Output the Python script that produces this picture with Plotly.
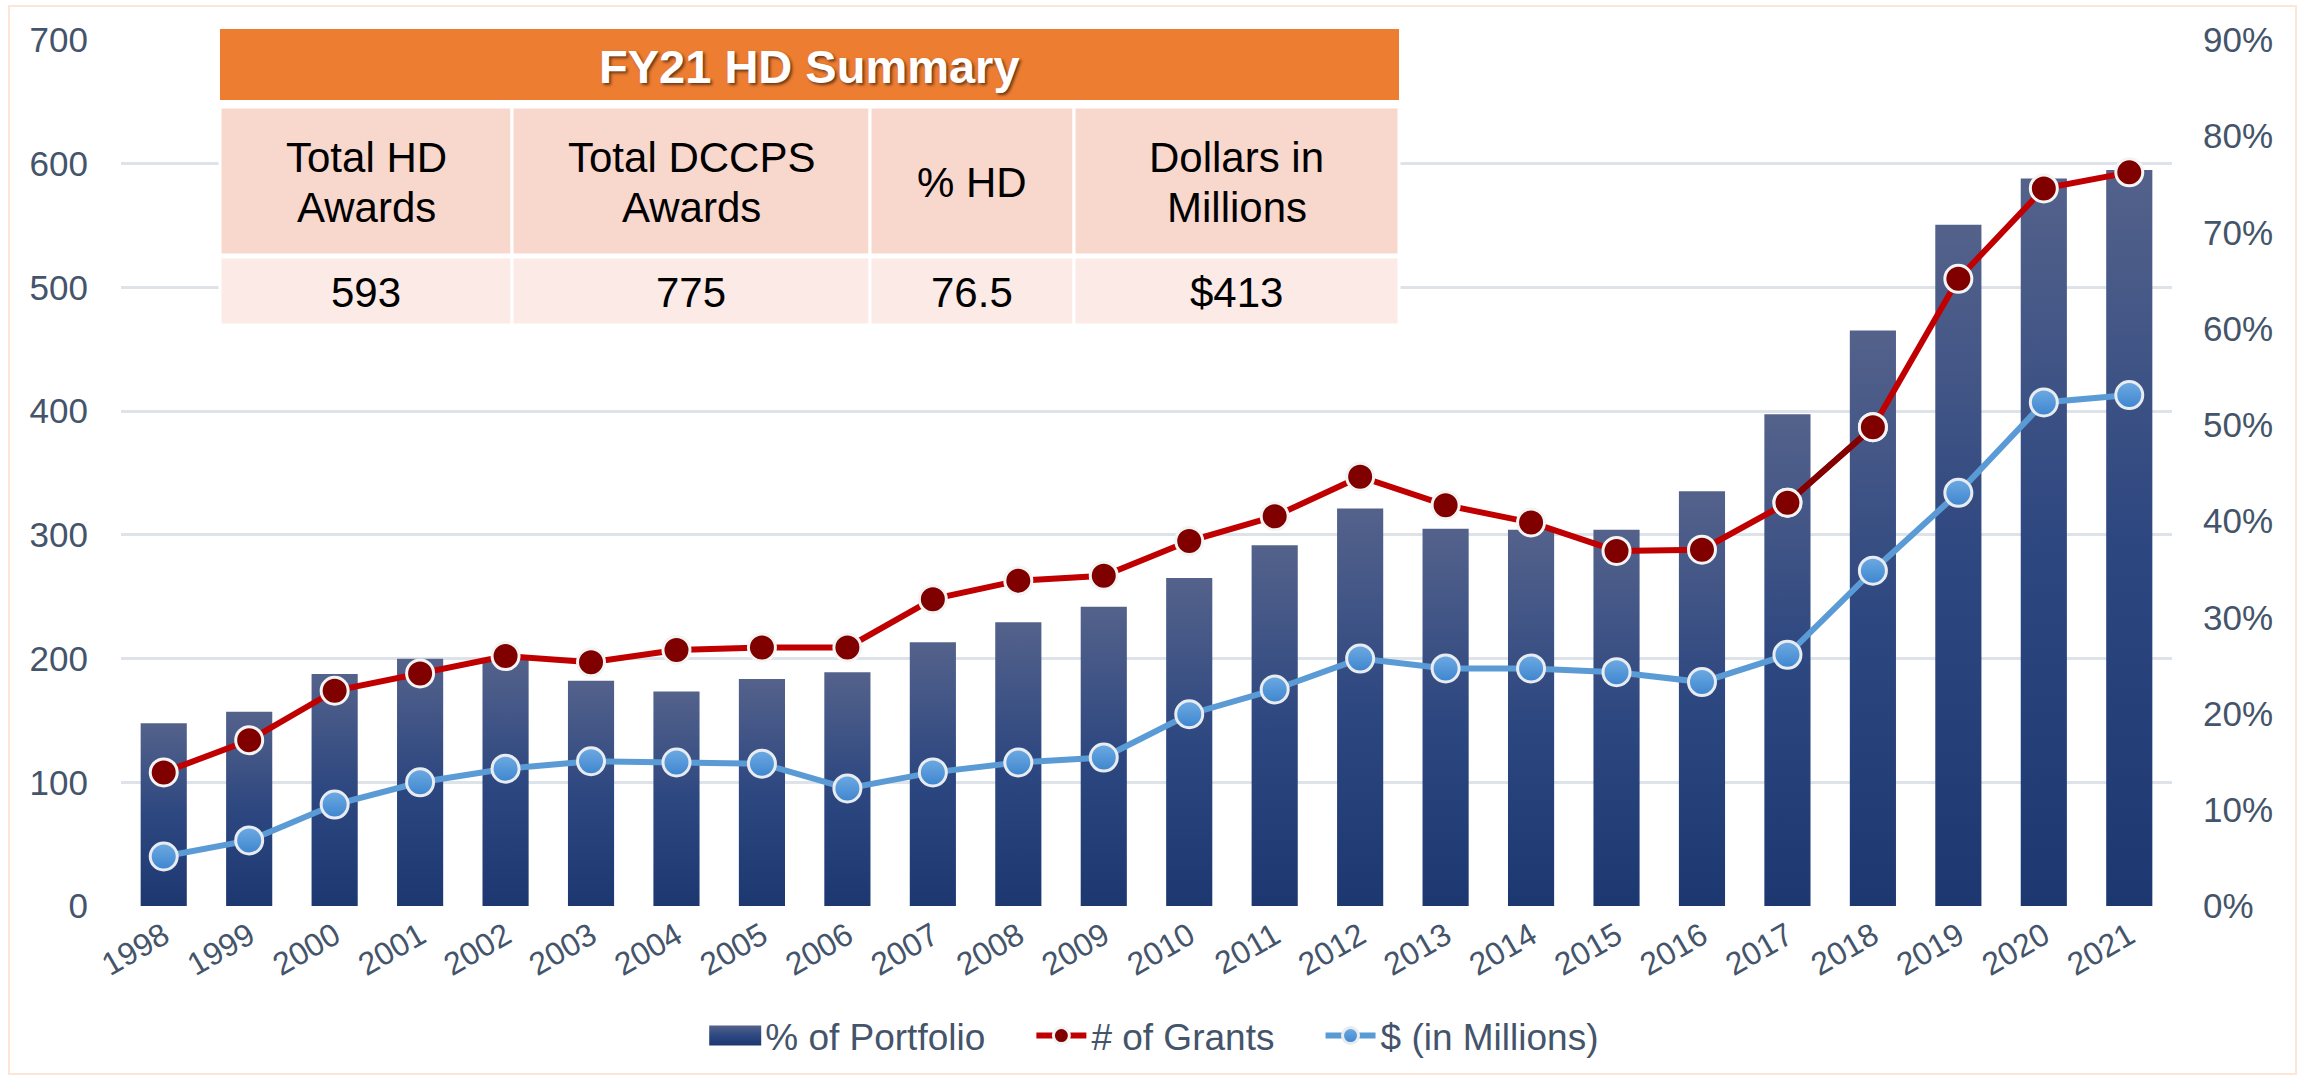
"""HD portfolio: share of portfolio, number of grants and dollars, FY1998-FY2021."""

import plotly.graph_objects as go

years = [str(y) for y in range(1998, 2022)]
portfolio_pct = [19.0, 20.2, 24.1, 25.7, 25.7, 23.4, 22.3, 23.6, 24.3, 27.4, 29.5, 31.1,
                 34.1, 37.5, 41.3, 39.2, 39.1, 39.1, 43.1, 51.1, 59.8, 70.8, 75.6, 76.5]
grants = [108, 134, 174, 188, 202, 197, 207, 209, 209, 248, 263, 267,
          295, 315, 347, 324, 310, 287, 288, 326, 387, 507, 580, 593]
dollars = [40, 53, 82, 100, 111, 117, 116, 115, 95, 108, 116, 120,
           155, 175, 200, 192, 192, 189, 181, 203, 271, 334, 407, 413]

summary_title = "FY21 HD Summary"
summary_headers = ["Total HD<br>Awards", "Total DCCPS<br>Awards", "% HD", "Dollars in<br>Millions"]
summary_values = ["593", "775", "76.5", "$413"]

FONT = "Liberation Sans, Arial, sans-serif"
TEXT = "#44546A"
GAP = "\u00a0" * 4  # extra room between legend entries

# plot area in page pixels, used to place the summary box
PX_L, PX_R, PX_T, PX_B = 121, 2172, 40, 906


def px_x(p):
    return (p - PX_L) / (PX_R - PX_L)


def px_y(p):
    return (PX_B - p) / (PX_B - PX_T)


red_marker = {"size": 27, "color": "#800000", "line": {"color": "#F4F4F4", "width": 3}}

fig = go.Figure()
fig.add_trace(go.Bar(x=years, y=portfolio_pct, name="% of Portfolio" + GAP, marker_color="#2B4680",
                     marker_line_width=0, yaxis="y"))
fig.add_trace(go.Scatter(x=years, y=grants, name="# of Grants" + GAP, mode="lines+markers", yaxis="y2",
                         line={"color": "#C00000", "width": 6}, marker=red_marker))
# Excel draws the 2017-2018 segment darker
fig.add_trace(go.Scatter(x=years[19:21], y=grants[19:21], mode="lines", yaxis="y2", showlegend=False,
                         line={"color": "#820000", "width": 6}, hoverinfo="skip"))
fig.add_trace(go.Scatter(x=years[19:21], y=grants[19:21], mode="markers", yaxis="y2", showlegend=False,
                         marker=red_marker, hoverinfo="skip"))
fig.add_trace(go.Scatter(x=years, y=dollars, name="$ (in Millions)", mode="lines+markers", yaxis="y2",
                         line={"color": "#5B9BD5", "width": 6},
                         marker={"size": 27, "color": "#6DAAE2",
                                 "gradient": {"type": "vertical", "color": "#3E85CF"},
                                 "line": {"color": "#E8ECF0", "width": 3}}))

shapes = [
    # outer frame
    dict(type="rect", xref="paper", yref="paper", x0=px_x(9), x1=px_x(2296), y0=px_y(1074), y1=px_y(6),
         line={"color": "#FCE6D8", "width": 2}, layer="below"),
    # summary title bar
    dict(type="rect", xref="paper", yref="paper", x0=px_x(220), x1=px_x(1399), y0=px_y(100), y1=px_y(29),
         fillcolor="#ED7D31", line={"width": 0}, layer="above"),
]
annotations = [
    dict(text="<b>%s</b>" % summary_title, xref="paper", yref="paper", x=px_x(809), y=px_y(66),
         xanchor="center", yanchor="middle", showarrow=False,
         font={"family": FONT, "size": 47, "color": "white", "shadow": "2px 2px 3px rgba(0,0,0,0.55)"}),
]
col_edges = [220, 512, 870, 1074, 1399]
for i in range(4):
    x0, x1 = col_edges[i], col_edges[i + 1]
    for (y0, y1, fill, txt) in ((107, 255, "#F8D7CC", summary_headers[i]), (257, 325, "#FBEAE5", summary_values[i])):
        shapes.append(dict(type="rect", xref="paper", yref="paper", x0=px_x(x0), x1=px_x(x1),
                           y0=px_y(y1), y1=px_y(y0), fillcolor=fill,
                           line={"color": "white", "width": 3}, layer="above"))
        lines = txt.split("<br>")
        for k, line in enumerate(lines):
            yc = (y0 + y1) / 2 + 1 + (k - (len(lines) - 1) / 2) * 50
            annotations.append(dict(text=line, xref="paper", yref="paper", x=px_x((x0 + x1) / 2), y=px_y(yc),
                                    xanchor="center", yanchor="middle", showarrow=False,
                                    font={"family": FONT, "size": 42, "color": "black"}))

fig.update_layout(
    width=2305, height=1079,
    margin={"l": PX_L, "r": 2305 - PX_R, "t": PX_T, "b": 1079 - PX_B},
    paper_bgcolor="white", plot_bgcolor="white",
    font={"family": FONT, "color": TEXT},
    bargap=0.46,
    showlegend=True,
    legend={"orientation": "h", "x": 0.504, "xanchor": "center", "y": px_y(1036), "yanchor": "middle",
            "font": {"size": 37, "color": TEXT}, "itemwidth": 50, "traceorder": "normal"},
    xaxis={"type": "category", "range": [-0.5, 23.5], "tickangle": -30,
           "tickfont": {"size": 32, "color": TEXT},
           "showgrid": False, "showline": False, "ticks": "", "ticklabelstandoff": 4},
    yaxis={"side": "right", "range": [0, 90], "dtick": 10, "ticksuffix": "%", "showgrid": False,
           "zeroline": False, "tickfont": {"size": 35, "color": TEXT}, "ticklabelstandoff": 30},
    yaxis2={"side": "left", "overlaying": "y", "range": [0, 700], "dtick": 100, "showgrid": True,
            "gridcolor": "#DEE3E9", "gridwidth": 2.5, "zeroline": False,
            "tickfont": {"size": 35, "color": TEXT}, "ticklabelstandoff": 32},
    shapes=shapes,
    annotations=annotations,
    hovermode="x unified",
)

# per-bar vertical gradient like the Office chart fill; page margin removed
post_script = """
document.body.style.margin = '0';
var gd = document.getElementById('{plot_id}');
function paintBars() {
  var svg = gd.querySelector('svg.main-svg');
  if (!svg) return;
  var ns = 'http://www.w3.org/2000/svg';
  if (!document.getElementById('barGrad')) {
    var defs = svg.querySelector('defs');
    var g = document.createElementNS(ns, 'linearGradient');
    g.setAttribute('id', 'barGrad');
    g.setAttribute('x1', '0'); g.setAttribute('y1', '0');
    g.setAttribute('x2', '0'); g.setAttribute('y2', '1');
    [['0', '#54628B'], ['0.5', '#2D4780'], ['1', '#1D3870']].forEach(function (s) {
      var st = document.createElementNS(ns, 'stop');
      st.setAttribute('offset', s[0]);
      st.setAttribute('stop-color', s[1]);
      g.appendChild(st);
    });
    defs.appendChild(g);
  }
  gd.querySelectorAll('.barlayer .point path').forEach(function (p) { p.style.fill = 'url(#barGrad)'; });
  var items = gd.querySelectorAll('.legend .traces');
  if (items.length) {
    items[0].querySelectorAll('.legendpoints path').forEach(function (p) {
      p.setAttribute('d', 'M26,10H-26V-10H26Z');
      p.style.fill = 'url(#barGrad)';
    });
  }
}
paintBars();
gd.on('plotly_afterplot', paintBars);
"""

fig.write_html("out.html", post_script=post_script, config={"displayModeBar": False})
